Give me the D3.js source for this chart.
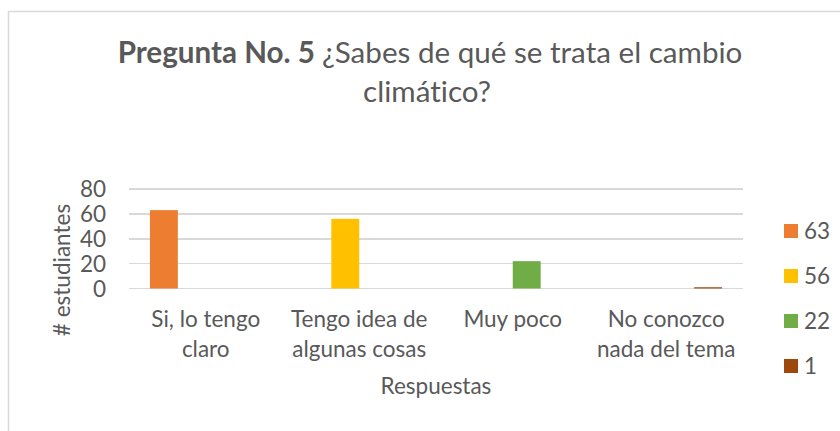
<!DOCTYPE html>
<html lang="es">
	<head>
		<meta charset="utf-8">
    <title>Pregunta No. 5</title>
    <script type="text/javascript" src="https://d3js.org/d3.v7.min.js"></script>
    <style>
	    html, body {
		    margin: 0;
		    padding: 0;
		    background: #ffffff;
	    }
	    text {
		    font-family: Lato, "Noto Sans", sans-serif;
		    font-variant-ligatures: none;
		    fill: #595959;
	    }
	    .grid line {
		    stroke: #d9d9d9;
		    stroke-width: 1.5px;
		    shape-rendering: crispEdges;
	    }
    </style>
  </head>
  <body>
<script type="text/javascript">

var categories = ["Si, lo tengo claro", "Tengo idea de algunas cosas", "Muy poco", "No conozco nada del tema"];
var categoryLines = [["Si, lo tengo", "claro"], ["Tengo idea de", "algunas cosas"], ["Muy poco"], ["No conozco", "nada del tema"]];
var seriesNames = ["63", "56", "22", "1"];
var seriesValues = [63, 56, 22, 1];   // serie i solo tiene valor en la categoria i
var seriesColors = ["#ed7d31", "#ffc000", "#70ad47", "#9e480e"];
var yTicks = [0, 20, 40, 60, 80];

var width = 840, height = 431;
var plot = {left: 129, right: 743, top: 189, bottom: 288.5};

var svg = d3.select("body").append("svg")
	.attr("width", width)
	.attr("height", height);

// borde del area del grafico (se sale por la derecha y abajo)
svg.append("rect")
	.attr("x", 8.5).attr("y", 11.5)
	.attr("width", width).attr("height", height)
	.attr("fill", "none")
	.attr("stroke", "#d9d9d9")
	.attr("stroke-width", 1.5);

var y = d3.scaleLinear()
	.domain([0, 80])
	.range([plot.bottom, plot.top]);

var x = d3.scaleBand()
	.domain(categories)
	.range([plot.left, plot.right]);

var xs = d3.scaleBand()
	.domain(seriesNames)
	.range([0, x.bandwidth()])
	.paddingOuter(0.75);

// rejilla
svg.append("g")
	.attr("class", "grid")
	.selectAll("line")
	.data(yTicks)
	.enter().append("line")
	.attr("x1", plot.left).attr("x2", plot.right)
	.attr("y1", function(d){ return y(d); })
	.attr("y2", function(d){ return y(d); });

// etiquetas eje y
svg.append("g")
	.selectAll("text")
	.data(yTicks)
	.enter().append("text")
	.attr("x", 106)
	.attr("y", function(d){ return y(d); })
	.attr("dy", "0.36em")
	.attr("text-anchor", "end")
	.style("font-size", "22.5px")
	.text(function(d){ return d; });

// barras
svg.append("g")
	.selectAll("rect")
	.data(seriesValues)
	.enter().append("rect")
	.attr("x", function(d, i){ return x(categories[i]) + xs(seriesNames[i]); })
	.attr("y", function(d){ return y(d); })
	.attr("width", xs.bandwidth())
	.attr("height", function(d){ return y(0) - y(d); })
	.attr("fill", function(d, i){ return seriesColors[i]; });

// etiquetas eje x
var xLabels = svg.append("g")
	.selectAll("text")
	.data(categories)
	.enter().append("text")
	.attr("text-anchor", "middle")
	.style("font-size", "22.5px");

xLabels.selectAll("tspan")
	.data(function(d, i){ return categoryLines[i]; })
	.enter().append("tspan")
	.attr("x", function(){ return x(d3.select(this.parentNode).datum()) + x.bandwidth() / 2; })
	.attr("y", function(d, j){ return 327 + j * 29.5; })
	.text(function(d){ return d; });

// titulos de ejes
svg.append("text")
	.attr("x", (plot.left + plot.right) / 2)
	.attr("y", 394)
	.attr("text-anchor", "middle")
	.style("font-size", "22.5px")
	.text("Respuestas");

svg.append("text")
	.attr("transform", "translate(70,270) rotate(-90)")
	.attr("text-anchor", "middle")
	.style("font-size", "22.5px")
	.text("# estudiantes");

// titulo
var title = svg.append("text")
	.attr("text-anchor", "middle")
	.style("font-size", "29.6px");
var t1 = title.append("tspan").attr("x", 430).attr("y", 63);
t1.append("tspan").style("font-weight", "bold").text("Pregunta No. 5 ");
t1.append("tspan").text("¿Sabes de qué se trata el cambio");
title.append("tspan").attr("x", 427).attr("y", 102).text("climático?");

// leyenda
var legend = svg.append("g")
	.selectAll("g")
	.data(seriesNames)
	.enter().append("g")
	.attr("transform", function(d, i){ return "translate(784," + (231 + i * 45) + ")"; });

legend.append("rect")
	.attr("y", -7)
	.attr("width", 14).attr("height", 14)
	.attr("fill", function(d, i){ return seriesColors[i]; });

legend.append("text")
	.attr("x", 20)
	.attr("dy", "0.36em")
	.style("font-size", "22.5px")
	.text(function(d){ return d; });

</script>
  </body>
</html>
